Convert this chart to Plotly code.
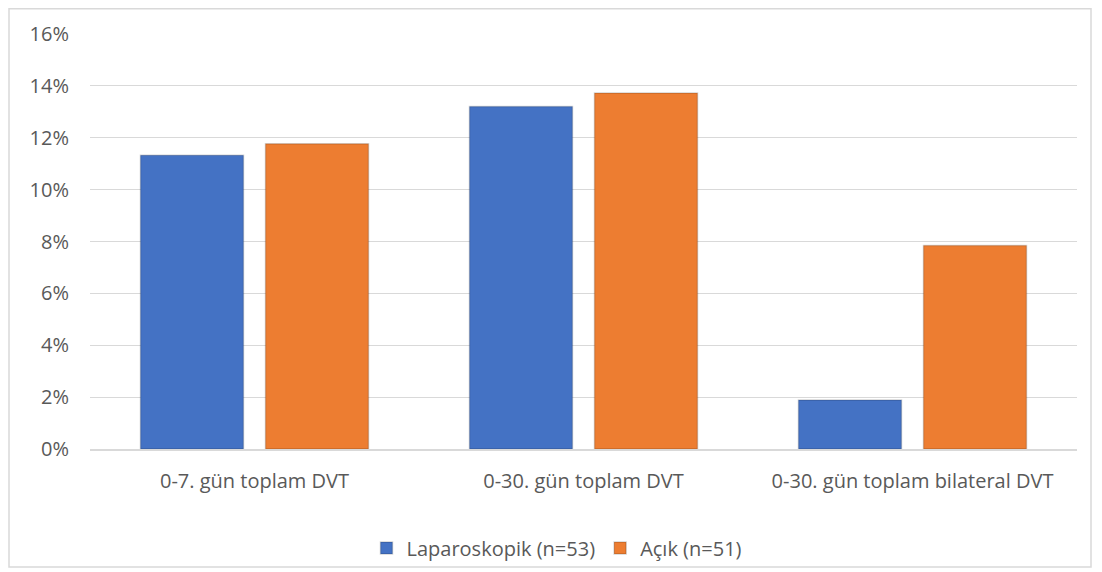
import plotly.graph_objects as go

categories = ["0-7. gün toplam DVT", "0-30. gün toplam DVT", "0-30. gün toplam bilateral DVT"]
laparoskopik = [6 / 53, 7 / 53, 1 / 53]
acik = [6 / 51, 7 / 51, 4 / 51]
series_names = ["Laparoskopik (n=53)", "Açık (n=51)"]
y_ticks = [0, 0.02, 0.04, 0.06, 0.08, 0.10, 0.12, 0.14, 0.16]

FONT = "'Open Sans', 'Noto Sans', sans-serif"
TXT = "#595959"

# page has an 8px body margin; figure is sized so it fits the 1102x572 window
W, H = 1094, 564
L, R, T, B = 82, 25, 26, 123
PW, PH = W - L - R, H - T - B

fig = go.Figure()
fig.add_trace(go.Bar(
    x=categories, y=laparoskopik, name=series_names[0],
    marker=dict(color="#4472c4", line=dict(color="rgba(0,0,0,0.17)", width=1.5)),
))
fig.add_trace(go.Bar(
    x=categories, y=acik, name=series_names[1],
    marker=dict(color="#ed7d31", line=dict(color="rgba(0,0,0,0.17)", width=1.5)),
))

fig.update_layout(
    width=W, height=H,
    margin=dict(l=L, r=R, t=T, b=B, autoexpand=False),
    paper_bgcolor="white", plot_bgcolor="white",
    barmode="group", bargap=0.24, bargroupgap=0.176,
    font=dict(family=FONT, size=20, color=TXT),
    legend=dict(orientation="h", xref="container", x=549 / W, xanchor="center",
                yref="container", y=(H - 540) / H, yanchor="middle",
                bgcolor="rgba(0,0,0,0)",
                font=dict(size=20, color=TXT), traceorder="normal"),
    showlegend=True,
    shapes=[dict(type="rect", xref="paper", yref="paper",
                 x0=(1 - L) / PW, x1=(1083 - L) / PW,
                 y0=(441 - 559) / PH, y1=(441 - 0.75) / PH,
                 line=dict(color="#d9d9d9", width=1.5), fillcolor="rgba(0,0,0,0)", layer="below")],
)
fig.update_yaxes(
    range=[0, 0.16], tickvals=y_ticks, tickformat=".0%",
    showgrid=True, gridcolor="#d9d9d9", gridwidth=1,
    zeroline=False, showline=False, ticks="", ticklabelstandoff=20,
    tickfont=dict(size=20, color=TXT),
)
fig.update_xaxes(
    showline=True, linecolor="#d9d9d9", linewidth=1.5, ticks="",
    tickfont=dict(size=20, color=TXT), ticklabelstandoff=13,
)

fig.write_html("out.html")
